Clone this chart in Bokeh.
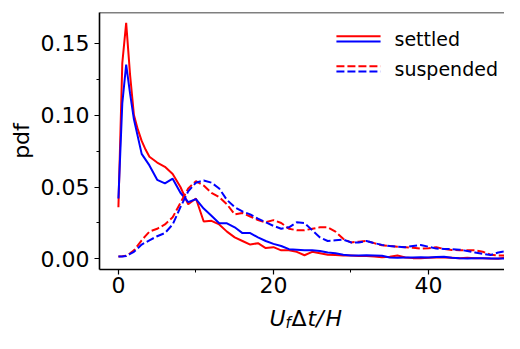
from bokeh.plotting import figure
from bokeh.layouts import column
from bokeh.models import Range1d, FixedTicker, NumeralTickFormatter, Span, Label
from bokeh.embed import file_html
from bokeh.resources import INLINE

# ---------------- data ----------------
x_vals = [0, 0.5, 1, 1.5, 2, 2.5, 3, 3.5, 4, 5, 6, 7, 8, 9, 10, 11, 12, 13, 14, 15,
          16, 17, 18, 19, 20, 21, 22, 23, 24, 25, 26, 27, 28, 29, 30, 31, 32, 33, 34, 35,
          36, 37, 38, 39, 40, 41, 42, 43, 44, 45, 46, 47, 48, 49, 50]

settled_red = [0.036, 0.136, 0.164, 0.128, 0.100, 0.090, 0.082, 0.076, 0.071, 0.067,
               0.064, 0.059, 0.050, 0.038, 0.042, 0.026, 0.0265, 0.024, 0.019, 0.015,
               0.0125, 0.0100, 0.011, 0.0076, 0.0082, 0.006, 0.006, 0.005, 0.0026, 0.005,
               0.004, 0.003, 0.0028, 0.0025, 0.0025, 0.002, 0.002, 0.0018, 0.0012, 0.0015,
               0.0024, 0.001, 0.0006, 0.0006, 0.0008, 0.001, 0.001, 0.0008, 0.0006, 0.0008,
               0.0006, 0.0005, 0.0003, 0.0002, 0.001]

settled_blue = [0.042, 0.108, 0.135, 0.115, 0.097, 0.085, 0.073, 0.069, 0.065, 0.055,
                0.0525, 0.0558, 0.046, 0.0395, 0.0416, 0.035, 0.030, 0.0248, 0.0248, 0.022,
                0.018, 0.018, 0.015, 0.0125, 0.0105, 0.009, 0.0068, 0.0065, 0.006, 0.006,
                0.0055, 0.0045, 0.004, 0.003, 0.0024, 0.0024, 0.0026, 0.0024, 0.0022, 0.001,
                0.0008, 0.001, 0.001, 0.0012, 0.001, 0.0013, 0.0015, 0.0008, 0.0005, 0.0003,
                0.0005, 0.0005, 0.0004, 0.0003, 0.0003]

suspended_red = [0.0017, 0.0019, 0.0022, 0.004, 0.006, 0.0095, 0.013, 0.016, 0.019, 0.021,
                 0.024, 0.029, 0.039, 0.049, 0.054, 0.051, 0.046, 0.043, 0.038, 0.031,
                 0.032, 0.0295, 0.027, 0.0255, 0.027, 0.025, 0.021, 0.020, 0.020, 0.021,
                 0.022, 0.022, 0.019, 0.014, 0.0115, 0.012, 0.0125, 0.011, 0.0095, 0.009,
                 0.0085, 0.0082, 0.0078, 0.0072, 0.0075, 0.0082, 0.007, 0.0063, 0.006, 0.006,
                 0.006, 0.005, 0.003, 0.0025, 0.0024]

suspended_blue = [0.0017, 0.0018, 0.002, 0.0035, 0.005, 0.0075, 0.010, 0.0115, 0.013, 0.0158,
                  0.018, 0.024, 0.036, 0.047, 0.053, 0.0545, 0.053, 0.049, 0.041, 0.036,
                  0.033, 0.031, 0.028, 0.0255, 0.023, 0.021, 0.022, 0.0255, 0.025, 0.020,
                  0.015, 0.0125, 0.013, 0.0135, 0.0115, 0.0115, 0.0125, 0.011, 0.0098, 0.009,
                  0.0085, 0.0082, 0.009, 0.0097, 0.0085, 0.0072, 0.007, 0.0068, 0.0065, 0.0055,
                  0.0045, 0.0035, 0.0028, 0.0045, 0.0054]

x_major_ticks = [0, 20, 40]
x_minor_ticks = [10, 30, 50]
y_major_ticks = [0.0, 0.05, 0.10, 0.15]
y_minor_ticks = [0.025, 0.075, 0.125]
legend_labels = ["settled", "suspended"]
y_label = "pdf"

FONT = "DejaVu Sans"
Y_TOP = 0.1712

p = figure(width=504, height=302, output_backend="svg", toolbar_location=None,
           x_range=Range1d(-2.44, 49.8), y_range=Range1d(-0.0073, Y_TOP),
           min_border_left=99, min_border_right=0, min_border_top=12, min_border_bottom=33)
p.outline_line_color = None
p.grid.visible = False
p.background_fill_color = "white"
p.border_fill_color = "white"

for ax in (p.xaxis[0], p.yaxis[0]):
    ax.axis_line_width = 1.6
    ax.axis_line_color = "black"
    ax.major_tick_out = 5
    ax.major_tick_in = 0
    ax.minor_tick_out = 3
    ax.minor_tick_in = 0
    ax.major_tick_line_width = 1.2
    ax.minor_tick_line_width = 1.0
    ax.major_label_text_font = FONT
    ax.major_label_text_font_size = "22px"
    ax.major_label_text_color = "black"

p.xaxis.ticker = FixedTicker(ticks=x_major_ticks, minor_ticks=x_minor_ticks)
p.yaxis.ticker = FixedTicker(ticks=y_major_ticks, minor_ticks=y_minor_ticks)
p.yaxis.formatter = NumeralTickFormatter(format="0.00")
p.xaxis.major_label_standoff = 2
p.yaxis.major_label_standoff = 5

p.yaxis.axis_label = y_label
p.yaxis.axis_label_text_font = FONT
p.yaxis.axis_label_text_font_size = "22px"
p.yaxis.axis_label_text_font_style = "normal"
p.yaxis.axis_label_text_color = "black"
p.yaxis.axis_label_standoff = 4

# top frame line
p.add_layout(Span(location=Y_TOP, dimension="width", line_color="black", line_width=1.6))

# data lines
p.line(x_vals, settled_red, line_color="#ff0000", line_width=2)
p.line(x_vals, settled_blue, line_color="#0000ff", line_width=2)
p.line(x_vals, suspended_red, line_color="#ff0000", line_width=2, line_dash="8 3")
p.line(x_vals, suspended_blue, line_color="#0000ff", line_width=2, line_dash="8 3")

# legend (handles drawn in frame-fraction coordinates)
p.extra_x_ranges = {"frac": Range1d(0, 1)}
p.extra_y_ranges = {"frac": Range1d(0, 1)}
hx0, hx1 = 0.585, 0.694
for yy, col, dash in [(0.908, "#ff0000", "solid"), (0.887, "#0000ff", "solid"),
                      (0.791, "#ff0000", "8 3"), (0.770, "#0000ff", "8 3")]:
    p.segment(x0=[hx0], x1=[hx1], y0=[yy], y1=[yy], line_color=col, line_width=2,
              line_dash=dash, x_range_name="frac", y_range_name="frac")

for txt, yy in zip(legend_labels, [231, 201]):
    p.add_layout(Label(x=295, y=yy, x_units="screen", y_units="screen", text=txt,
                       text_font=FONT, text_font_size="19px", text_baseline="middle",
                       text_color="black"))

# x axis label strip: U_f Δt/H (frame of this strip is aligned with the main frame)
p2 = figure(width=504, height=31, output_backend="svg", toolbar_location=None,
            x_axis_type=None, y_axis_type=None, x_range=Range1d(0, 1), y_range=Range1d(0, 1),
            min_border=0)
p2.outline_line_color = None
p2.grid.visible = False
p2.background_fill_color = "white"
p2.border_fill_color = "white"

parts = [("U", 170, 15.5, "22px", "italic"),
         ("f", 186, 10.7, "15px", "italic"),
         ("Δ", 192, 15.5, "22px", "normal"),
         ("t/", 208, 15.5, "22px", "italic"),
         ("H", 226, 15.5, "22px", "italic")]
for txt, xx, yy, fs, st in parts:
    p2.add_layout(Label(x=xx, y=yy, x_units="screen", y_units="screen", text=txt,
                        text_font=FONT, text_font_size=fs, text_font_style=st,
                        text_baseline="alphabetic", text_color="black"))

layout = column(p, p2, spacing=0)
open("out.html", "w").write(file_html(layout, INLINE))
